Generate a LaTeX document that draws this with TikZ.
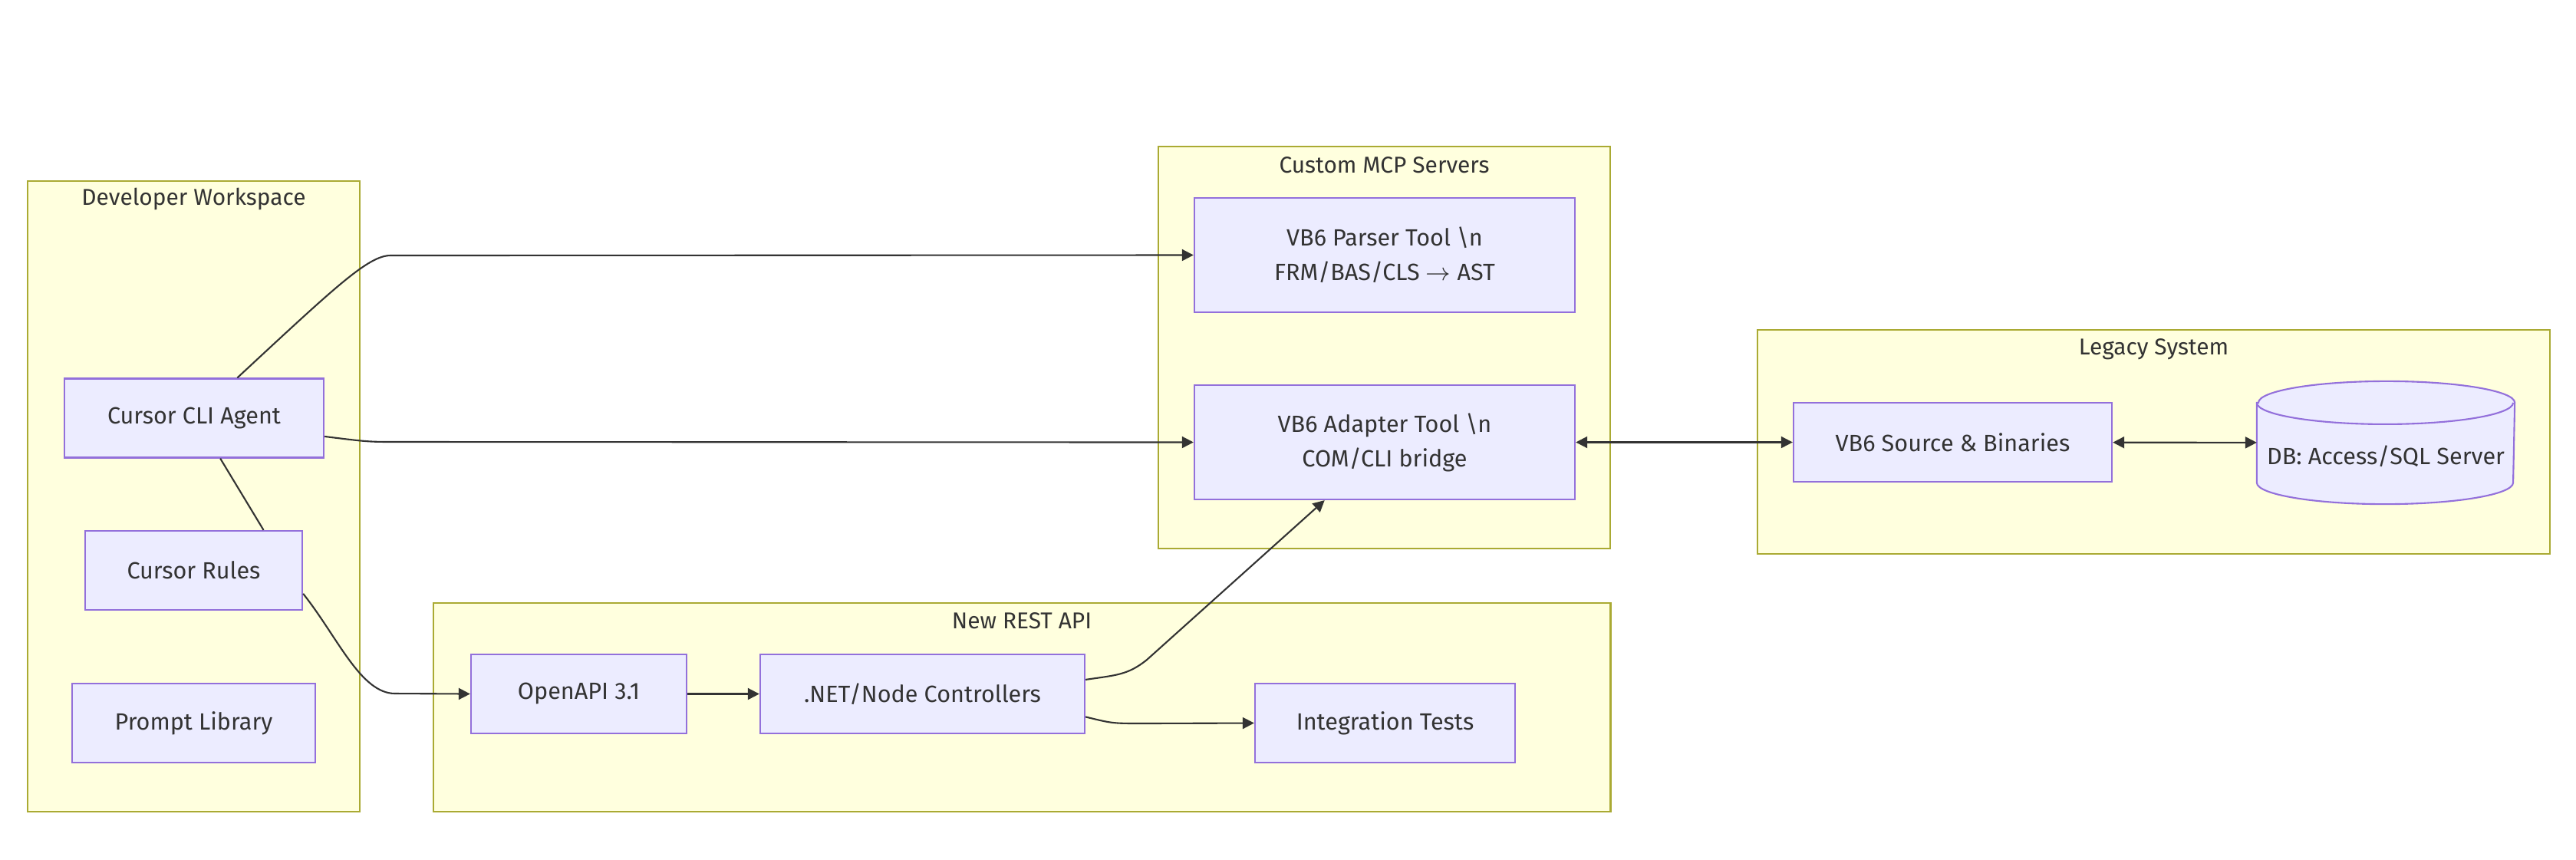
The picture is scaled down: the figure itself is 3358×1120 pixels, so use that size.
\documentclass[tikz,border=0pt]{standalone}
\usepackage{fontspec}
\setmainfont{Fira Sans}
\usepackage{tikz}
\usetikzlibrary{arrows.meta,positioning,calc}
\definecolor{nodefill}{HTML}{ECECFF}
\definecolor{nodeline}{HTML}{9370DB}
\definecolor{groupfill}{HTML}{FFFFDE}
\definecolor{groupline}{HTML}{AAAA33}
\definecolor{ink}{HTML}{333333}

\begin{document}
\begin{tikzpicture}[x=0.01cm,y=-0.01cm,
  box/.style={draw=nodeline,fill=nodefill,line width=0.6pt,minimum height=1.03cm,
    text=ink,font=\fontsize{8.7}{12.8}\selectfont,align=center,inner sep=0pt},
  group/.style={draw=groupline,fill=groupfill,line width=0.6pt,inner sep=0pt},
  grouptitle/.style={text=ink,font=\fontsize{8.5}{9}\selectfont,inner sep=0pt},
  link/.style={draw=ink,line width=0.6pt,-{Triangle[length=0.15cm,width=0.15cm]}},
  duplex/.style={draw=ink,line width=0.6pt,{Triangle[length=0.15cm,width=0.15cm]}-{Triangle[length=0.15cm,width=0.15cm]}}]
\useasboundingbox (0,0) rectangle (3358,1120);

% Groups
\node[group,minimum width=4.33cm,minimum height=8.22cm] (dw) at (252.5,647) {};
\node[group,minimum width=5.89cm,minimum height=5.24cm] (mcp) at (1804.5,453) {};
\node[group,minimum width=10.33cm,minimum height=2.92cm] (legacy) at (2807.5,576) {};
\node[group,minimum width=15.34cm,minimum height=2.72cm] (rest) at (1332,922) {};

\node[grouptitle] (dwt) at (252.5,259) {Developer Workspace};
\node[grouptitle] (mcpt) at (1804.5,215) {Custom MCP Servers};
\node[grouptitle] (legacyt) at (2807.5,455) {Legacy System};
\node[grouptitle] (restt) at (1332,809) {New REST API};

% Nodes
\node[box,minimum width=3.38cm] (cli) at (253,545) {Cursor CLI Agent};
\node[box,minimum width=2.83cm] (rules) at (252.5,743.5) {Cursor Rules};
\node[box,minimum width=3.17cm] (prompts) at (252.5,942.5) {Prompt Library};

\node[box,minimum width=4.96cm,minimum height=1.49cm] (parser) at (1805,332.5)
  {VB6 Parser Tool \textbackslash n\\FRM/BAS/CLS $\rightarrow$ AST};
\node[box,minimum width=4.96cm,minimum height=1.49cm] (adapter) at (1805,576.5)
  {VB6 Adapter Tool \textbackslash n\\COM/CLI bridge};

\node[box,minimum width=4.15cm] (vbsrc) at (2545.5,576.5) {VB6 Source \& Binaries};
\node[box,draw=none,fill=none,minimum width=3.34cm,minimum height=1.58cm,
  text height=0.62cm,text depth=0.06cm] (db) at (3110,577) {};

\node[box,minimum width=2.81cm] (openapi) at (754.5,904.5) {OpenAPI 3.1};
\node[box,minimum width=4.23cm] (ctrl) at (1202.5,904.5) {.NET/Node Controllers};
\node[box,minimum width=3.39cm] (tests) at (1805.5,942.5) {Integration Tests};

% Database drum
\filldraw[draw=nodeline,fill=nodefill,line width=0.6pt]
  ($(db.north west)+(0,28)$) -- ($(db.south west)+(0,-28)$)
  arc[start angle=180,end angle=360,x radius=1.67cm,y radius=0.28cm]
  -- ($(db.north east)+(0,28)$)
  arc[start angle=0,end angle=180,x radius=1.67cm,y radius=0.28cm] -- cycle;
\draw[draw=nodeline,line width=0.6pt] ($(db.north west)+(0,28)$)
  arc[start angle=180,end angle=360,x radius=1.67cm,y radius=0.28cm];
\node[box,draw=none,fill=none,text height=0.62cm,text depth=0.06cm,
  minimum width=3.34cm,minimum height=1.58cm] (dbtext) at (db) {DB: Access/SQL Server};

% Bends
\coordinate (b1) at (509,333);
\coordinate (b2) at (520,576);
\coordinate (b3) at (515,904);
\coordinate (b4) at (1495,860);
\coordinate (b5) at (1490,943);

% Edges
\draw[link] (cli.43) .. controls (436,375) and (480,333) .. (b1) -- (parser.west);
\draw[link] (cli.-8) .. controls (480,576) .. (b2) -- (adapter.west);
\draw[draw=ink,line width=0.6pt] (cli.-57) -- (rules.30);
\draw[link] (rules.-12.5) .. controls (440,830) and (470,904) .. (b3) -- (openapi.west);
\draw[link] (openapi) -- (ctrl);
\draw[link] (ctrl.5) .. controls (1455,880) and (1470,880) .. (b4) -- (adapter.-136);
\draw[link] (ctrl.-8.5) .. controls (1450,943) .. (b5) -- (tests.west);
\draw[duplex] (adapter) -- (vbsrc);
\draw[duplex] (vbsrc) -- (db);

\end{tikzpicture}
\end{document}
